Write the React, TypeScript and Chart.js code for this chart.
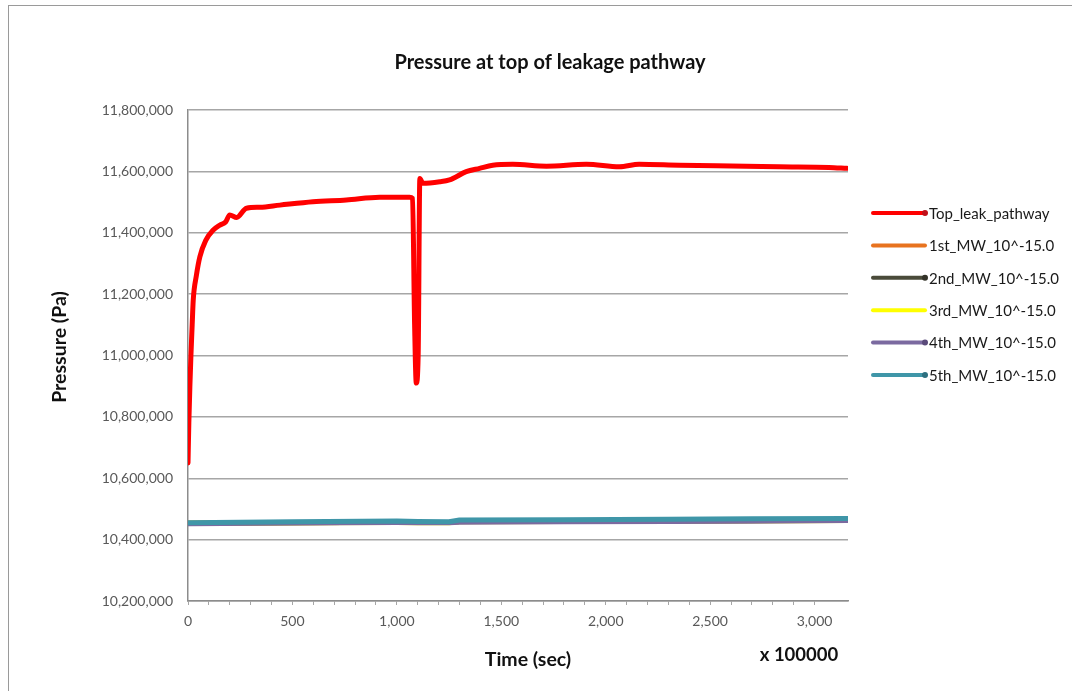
import React, { useEffect, useRef } from "react";
import { Chart, registerables } from "chart.js";

Chart.register(...registerables);

// Pressure at the top of the leakage pathway (time in units of 1e5 s, pressure in Pa)
const topTime = [
  0, 4, 9, 14, 20, 25, 40, 57, 85, 121, 153, 180, 200, 233, 280, 344, 440, 598, 758, 918,
  1061, 1075, 1085, 1093, 1102, 1110, 1125, 1205, 1252, 1332, 1396, 1459, 1555, 1716, 1907,
  2065, 2160, 2352, 2672, 2830, 3069, 3155,
];
const topPressure = [
  10650000, 10780000, 10900000, 11000000, 11100000, 11180000, 11260000, 11322000, 11375000,
  11409000, 11425000, 11435000, 11458000, 11450000, 11480000, 11483000, 11490000, 11501000,
  11507000, 11516000, 11516000, 11512000, 11100000, 10910000, 11000000, 11577000, 11561000,
  11566000, 11572000, 11599000, 11610000, 11620000, 11623000, 11617000, 11623000, 11615000,
  11623000, 11620000, 11617000, 11615000, 11613000, 11610000,
];

// Monitoring wells share one time base
const wellTime = [0, 500, 1000, 1100, 1250, 1300, 1800, 2300, 2700, 3155];
const mw1 = [10453000, 10455000, 10457000, 10456000, 10456000, 10459000, 10460000, 10461000, 10462000, 10463000];
const mw2 = [10453000, 10455000, 10457000, 10456000, 10456000, 10459000, 10460000, 10461000, 10462000, 10463000];
const mw3 = [10453000, 10455000, 10456000, 10455000, 10455000, 10458000, 10459000, 10460000, 10461000, 10462000];
const mw4 = [10452000, 10454000, 10456000, 10455000, 10455000, 10457000, 10458000, 10459000, 10460000, 10462000];
const mw5 = [10455000, 10458000, 10461000, 10459000, 10458000, 10464000, 10465000, 10466000, 10468000, 10469000];

const seriesNames = [
  "Top_leak_pathway",
  "1st_MW_10^-15.0",
  "2nd_MW_10^-15.0",
  "3rd_MW_10^-15.0",
  "4th_MW_10^-15.0",
  "5th_MW_10^-15.0",
];
const seriesColors = ["#ff0000", "#e8731f", "#4a4b3a", "#ffff00", "#7b6aa0", "#3f96a8"];
const legendDotColors = ["#c0101a", null, "#333328", null, "#5a4a7a", "#2d7080"];

const yTicks = { min: 10200000, max: 11800000, step: 200000 };
const xTicks = { min: 0, max: 3160, step: 100, labelStep: 500 };

const chartTitle = "Pressure at top of leakage pathway";
const xTitle = "Time (sec)";
const xMultiplier = "x 100000";
const yTitle = "Pressure (Pa)";

const FONT = "Lato, 'Open Sans', sans-serif";

const toPoints = (xs: number[], ys: number[]) => xs.map((x, i) => ({ x, y: ys[i] }));

const textPlugin = {
  id: "chartText",
  afterDraw(chart: any) {
    const { ctx, chartArea } = chart;
    ctx.save();
    ctx.fillStyle = "#111";
    ctx.textAlign = "center";
    ctx.textBaseline = "middle";
    ctx.font = `bold 20px ${FONT}`;
    ctx.fillText(chartTitle, 550, 63);

    ctx.font = `bold 19.5px ${FONT}`;
    ctx.fillText(xTitle, 528, 660);
    ctx.font = `bold 18.5px ${FONT}`;
    ctx.fillText(xMultiplier, 799, 655);

    ctx.save();
    ctx.font = `bold 19.5px ${FONT}`;
    ctx.translate(60, 347);
    ctx.rotate(-Math.PI / 2);
    ctx.fillText(yTitle, 0, 0);
    ctx.restore();

    // legend
    const lx0 = chartArea.right + 25;
    const lx1 = lx0 + 52;
    ctx.textAlign = "left";
    ctx.font = `15px ${FONT}`;
    chart.data.datasets.forEach((ds: any, i: number) => {
      const y = 213 + i * 32.4;
      ctx.strokeStyle = ds.borderColor;
      ctx.lineWidth = 4;
      ctx.lineCap = "round";
      ctx.beginPath();
      ctx.moveTo(lx0, y);
      ctx.lineTo(lx1, y);
      ctx.stroke();
      const dot = legendDotColors[i];
      if (dot) {
        ctx.fillStyle = dot;
        ctx.beginPath();
        ctx.arc(lx1, y, 3, 0, Math.PI * 2);
        ctx.fill();
      }
      ctx.fillStyle = "#1a1a1a";
      ctx.fillText(ds.label, lx1 + 4, y + 1);
    });
    ctx.restore();
  },
};

export default function App() {
  const canvasRef = useRef<HTMLCanvasElement | null>(null);

  useEffect(() => {
    const canvas = canvasRef.current;
    if (!canvas) return;
    const wellSeries = [mw1, mw2, mw3, mw4, mw5];
    const datasets: any[] = [
      {
        label: seriesNames[0],
        data: toPoints(topTime, topPressure),
        borderColor: seriesColors[0],
        borderWidth: 5,
        order: 0,
        cubicInterpolationMode: "monotone",
      },
      ...wellSeries.map((ys, i) => ({
        label: seriesNames[i + 1],
        data: toPoints(wellTime, ys),
        borderColor: seriesColors[i + 1],
        borderWidth: 5,
        order: 5 - i,
      })),
    ].map((d) => ({ ...d, pointRadius: 0, fill: false, borderJoinStyle: "round", borderCapStyle: "round" }));

    const chart = new Chart(canvas, {
      type: "line",
      data: { datasets },
      plugins: [textPlugin],
      options: {
        animation: false,
        responsive: false,
        layout: { padding: { left: 0, right: 224, top: 110, bottom: 0 } },
        plugins: { legend: { display: false }, title: { display: false }, tooltip: { enabled: false } },
        scales: {
          x: {
            type: "linear",
            min: xTicks.min,
            max: xTicks.max,
            afterFit: (s: any) => {
              s.height = 90;
            },
            afterBuildTicks: (s: any) => {
              s.ticks = s.ticks.filter((t: any) => t.value % xTicks.step === 0);
            },
            border: { display: true, color: "#8c8c8c", width: 1.5 },
            grid: {
              drawOnChartArea: false,
              drawTicks: true,
              tickLength: 4,
              color: "#a6a6a6",
              lineWidth: 1,
            },
            ticks: {
              stepSize: xTicks.step,
              autoSkip: false,
              maxRotation: 0,
              padding: 8,
              color: "#595959",
              font: { family: FONT, size: 14 },
              callback: (v: any) => (Number(v) % xTicks.labelStep === 0 ? Number(v).toLocaleString("en-US") : ""),
            },
          },
          y: {
            type: "linear",
            min: yTicks.min,
            max: yTicks.max,
            afterFit: (s: any) => {
              s.width = 188;
            },
            border: { display: true, color: "#8c8c8c", width: 1.5 },
            grid: { drawTicks: false, color: "#a6a6a6", lineWidth: 1.5 },
            ticks: {
              stepSize: yTicks.step,
              padding: 15,
              color: "#595959",
              font: { family: FONT, size: 14 },
              callback: (v: any) => Number(v).toLocaleString("en-US"),
            },
          },
        },
      },
    });
    return () => chart.destroy();
  }, []);

  return (
    <div style={{ position: "fixed", left: 0, top: 0, width: 1072, height: 691, background: "#fff", overflow: "hidden" }}>
      <div
        style={{
          position: "absolute",
          left: 8,
          top: 5,
          width: 1100,
          height: 720,
          border: "1.5px solid #9a9a9a",
          boxSizing: "border-box",
        }}
      />
      <canvas ref={canvasRef} width={1072} height={691} style={{ position: "absolute", left: 0, top: 0 }} />
    </div>
  );
}
